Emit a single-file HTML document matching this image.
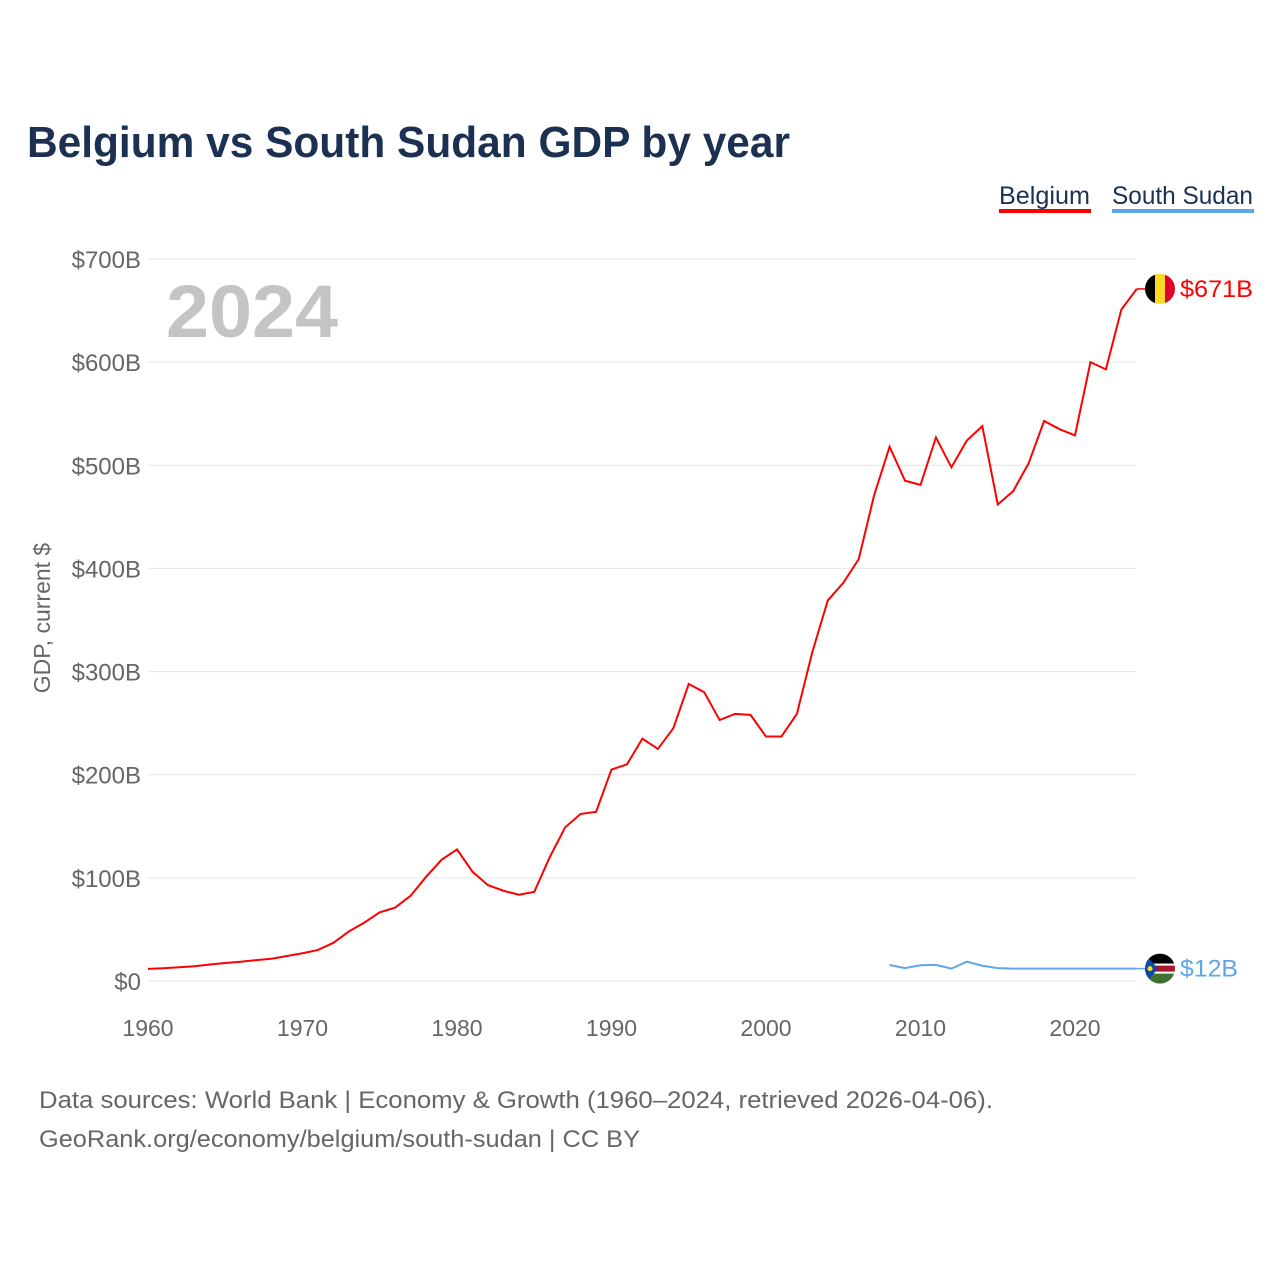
<!DOCTYPE html>
<html><head><meta charset="utf-8">
<style>
body{margin:0;background:#fff;font-family:"Liberation Sans",sans-serif;}
#wrap{position:relative;width:1280px;height:1280px;overflow:hidden;}
svg text{font-family:"Liberation Sans",sans-serif;}
</style></head>
<body><div id="wrap">
<svg id="chart" width="1280" height="1280"></svg>
</div>
<script>
const yearsBE = [];
for (let y = 1960; y <= 2024; y++) yearsBE.push(y);
const belgiumGDP = [11.7,12.4,13.3,14.3,16.0,17.4,18.7,20.2,21.6,24.2,26.9,30.1,37.0,48.0,56.6,66.6,71.2,82.7,101,117.5,127.6,106,93,87.5,83.6,86.4,120,149,162,164,205,210,235,225,245,288,280,253,259,258,237,237,259,319,369,386,409,471,518,485,481,527,498,524,538,462,475,502,543,535,529,600,593,651,671];
const yearsSS = [2008,2009,2010,2011,2012,2013,2014,2015,2016,2017,2018,2019,2020,2021,2022,2023,2024];
const southSudanGDP = [15.5,12.5,15.3,15.6,12.0,18.7,14.8,12.5,12,12,12,12,12,12,12,12,12];
const yTicks = [0,100,200,300,400,500,600,700];
const yTickLabels = ["$0","$100B","$200B","$300B","$400B","$500B","$600B","$700B"];
const xTicks = [1960,1970,1980,1990,2000,2010,2020];

const NS = "http://www.w3.org/2000/svg";
const svg = document.getElementById('chart');
const x = v => 148 + (v - 1960) * (927 / 60);
const y = v => 981 - v * (722 / 700);
function el(tag, attrs, parent, text) {
  const e = document.createElementNS(NS, tag);
  for (const k in attrs) e.setAttribute(k, attrs[k]);
  if (text !== undefined) e.textContent = text;
  (parent || svg).appendChild(e);
  return e;
}
let t;
t = el('text', {x:27, y:157, 'font-size':44, 'font-weight':'bold', fill:'#1c3152', textLength:763, lengthAdjust:'spacingAndGlyphs'}, svg, 'Belgium vs South Sudan GDP by year');


// legend
t = el('text', {x:999, y:204, 'font-size':25, fill:'#1c3152', textLength:91, lengthAdjust:'spacingAndGlyphs'}, svg, 'Belgium');


t = el('rect', {x:999, y:209, width:92, height:4, fill:'#ff0000'});


t = el('text', {x:1112, y:204, 'font-size':25, fill:'#1c3152', textLength:141, lengthAdjust:'spacingAndGlyphs'}, svg, 'South Sudan');


t = el('rect', {x:1112, y:209, width:142, height:4, fill:'#5ea6ea'});


// grid + y ticks
yTicks.forEach((v, i) => {
  const g = el('line', {x1:148, x2:1136, y1:y(v), y2:y(v), stroke:'#e6e6e6', 'stroke-width':1});
  
  
  const l = el('text', {x:141, y:y(v) + 9, 'font-size':24, fill:'#666', 'text-anchor':'end'}, svg, yTickLabels[i]);
  
  
});
xTicks.forEach(v => {
  const l = el('text', {x:x(v), y:1036, 'font-size':23, fill:'#666', 'text-anchor':'middle'}, svg, String(v));
  
  
});
t = el('text', {x:0, y:0, 'font-size':23, fill:'#666', 'text-anchor':'middle', transform:'translate(50,618) rotate(-90)'}, svg, 'GDP, current $');


t = el('text', {x:166, y:337, 'font-size':74, 'font-weight':'bold', fill:'#c4c4c4', textLength:172, lengthAdjust:'spacingAndGlyphs'}, svg, '2024');


// lines
const pBE = belgiumGDP.map((v, i) => x(yearsBE[i]) + ',' + y(v)).join(' ');
t = el('polyline', {points:pBE, fill:'none', stroke:'#ff0000', 'stroke-width':2});


const pSS = southSudanGDP.map((v, i) => x(yearsSS[i]) + ',' + y(v)).join(' ');
t = el('polyline', {points:pSS, fill:'none', stroke:'#5ea6ea', 'stroke-width':2});


// end connectors and flags
const lastBE = belgiumGDP[belgiumGDP.length - 1], lastSS = southSudanGDP[southSudanGDP.length - 1];
el('line', {x1:x(2024), x2:1146, y1:y(lastBE), y2:y(lastBE), stroke:'#ff0000', 'stroke-width':1.5});
el('line', {x1:x(2024), x2:1146, y1:y(lastSS), y2:y(lastSS), stroke:'#5ea6ea', 'stroke-width':1.5});
const defs = el('defs', {});
const c1 = el('clipPath', {id:'cb'}, defs); el('circle', {cx:1160, cy:y(lastBE), r:15}, c1);
const c2 = el('clipPath', {id:'cs'}, defs); el('circle', {cx:1160, cy:y(lastSS), r:15}, c2);
const fb = el('g', {'clip-path':'url(#cb)'});


const by = y(lastBE);
el('rect', {x:1145, y:by-15, width:10, height:30, fill:'#000'}, fb);
el('rect', {x:1155, y:by-15, width:10, height:30, fill:'#fdda24'}, fb);
el('rect', {x:1165, y:by-15, width:10, height:30, fill:'#e0002a'}, fb);
const fs = el('g', {'clip-path':'url(#cs)'});


const sy = y(lastSS);
el('rect', {x:1145, y:sy-15, width:30, height:10, fill:'#000'}, fs);
el('rect', {x:1145, y:sy-5, width:30, height:10, fill:'#fff'}, fs);
el('rect', {x:1145, y:sy-3, width:30, height:6, fill:'#a7192f'}, fs);
el('rect', {x:1145, y:sy+5, width:30, height:10, fill:'#3d7233'}, fs);
el('polygon', {points:`1145,${sy-15} 1158,${sy} 1145,${sy+15}`, fill:'#0f47af'}, fs);
el('circle', {cx:1150, cy:sy, r:2.5, fill:'#fcdd09'}, fs);
t = el('text', {x:1180, y:by + 8, 'font-size':24, fill:'#ff0000', textLength:73, lengthAdjust:'spacingAndGlyphs'}, svg, '$' + Math.round(lastBE) + 'B');


t = el('text', {x:1180, y:sy + 8, 'font-size':24, fill:'#5ea6ea', textLength:58, lengthAdjust:'spacingAndGlyphs'}, svg, '$' + Math.round(lastSS) + 'B');


// footer
t = el('text', {x:39, y:1108, 'font-size':24, fill:'#666', textLength:954, lengthAdjust:'spacingAndGlyphs'}, svg, 'Data sources: World Bank | Economy & Growth (1960–2024, retrieved 2026-04-06).');


t = el('text', {x:39, y:1147, 'font-size':24, fill:'#666', textLength:601, lengthAdjust:'spacingAndGlyphs'}, svg, 'GeoRank.org/economy/belgium/south-sudan | CC BY');


</script>
</body></html>
